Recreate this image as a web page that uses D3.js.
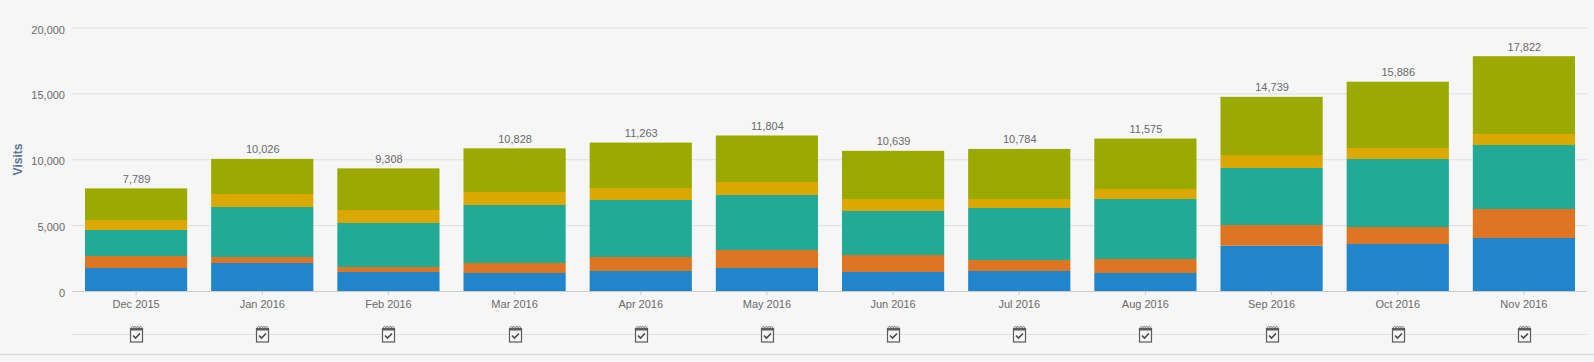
<!DOCTYPE html>
<html><head><meta charset="utf-8">
<script src="https://cdn.jsdelivr.net/npm/d3@7"></script>
<style>html,body{margin:0;padding:0;background:#f6f6f6}svg{display:block}text{font-family:"Liberation Sans",Arial,sans-serif}</style>
</head><body><svg id="c" width="1594" height="362"></svg>
<script>
const months=["Dec 2015","Jan 2016","Feb 2016","Mar 2016","Apr 2016","May 2016","Jun 2016","Jul 2016","Aug 2016","Sep 2016","Oct 2016","Nov 2016"];
const totals=[7789,10026,9308,10828,11263,11804,10639,10784,11575,14739,15886,17822];
const blue=[1746,2125,1442,1366,1518,1746,1442,1518,1366,3441,3567,4023];
const orange=[911,455,380,759,1063,1366,1290,835,1063,1569,1290,2201];
const teal=[1973,3795,3340,4402,4326,4175,3340,3947,4554,4326,5161,4858];
const gold=[759,987,987,987,911,987,911,683,759,987,835,835];
const olive=[2400,2664,3159,3314,3445,3530,3656,3801,3833,4416,5033,5905];
const yTicks=[0,5000,10000,15000,20000];
const seriesNames=["blue","orange","teal","gold","olive"];
const seriesColors=["#2085cb","#dd7522","#22aa96","#dba800","#9aaa00"];

const svg=d3.select("#c");
const L=72,R=1587,T=27.5,B=291;
const x=d3.scaleBand().domain(months).range([L+1,R]).paddingInner(0.19).paddingOuter(0.095);
const y=d3.scaleLinear().domain([0,20000]).range([B,T]);
const table=months.map((m,i)=>({month:m,blue:blue[i],orange:orange[i],teal:teal[i],gold:gold[i],olive:olive[i]}));
const stacked=d3.stack().keys(seriesNames)(table);
const color=d3.scaleOrdinal(seriesNames,seriesColors);

// grid + y labels
const yAxis=svg.append("g").attr("transform",`translate(${L},0)`)
  .call(d3.axisLeft(y).tickValues(yTicks).tickSize(-(R-L)).tickPadding(7).tickFormat(d3.format(",")));
yAxis.select(".domain").remove();
yAxis.selectAll("line").attr("stroke",d=>d===0?"#c8ccd0":"#dfdfdf").attr("stroke-width",1);
yAxis.selectAll("text").attr("fill","#6a6a6a").style("font-size","11px").attr("dy","0.5em");

// bars
svg.append("g").selectAll("g").data(stacked).join("g").attr("fill",d=>color(d.key))
  .selectAll("rect").data(d=>d).join("rect")
  .attr("x",d=>x(d.data.month)).attr("width",x.bandwidth())
  .attr("y",d=>y(d[1])).attr("height",d=>y(d[0])-y(d[1]));

// x axis
const xAxis=svg.append("g").attr("transform",`translate(0,${B})`)
  .call(d3.axisBottom(x).tickSize(4).tickPadding(5));
xAxis.select(".domain").remove();
xAxis.selectAll("line").attr("stroke","#c8ccd0");
xAxis.selectAll("text").attr("fill","#6a6a6a").style("font-size","11px");

// totals
svg.append("g").selectAll("text").data(months).join("text")
  .attr("x",d=>x(d)+x.bandwidth()/2+0.5).attr("y",(d,i)=>y(totals[i])-5.5)
  .attr("text-anchor","middle").attr("fill","#6a6a6a").style("font-size","11px")
  .text((d,i)=>d3.format(",")(totals[i]));

// axis title
svg.append("text").attr("transform",`translate(22,${159.5}) rotate(-90)`)
  .attr("text-anchor","middle").attr("fill","#5b7597").style("font-size","12px").style("font-weight","bold").text("Visits");

// annotation row
svg.append("line").attr("x1",L).attr("x2",R).attr("y1",334.5).attr("y2",334.5).attr("stroke","#e2e2e2");
svg.append("line").attr("x1",0).attr("x2",1594).attr("y1",354.5).attr("y2",354.5).attr("stroke","#dcdcdc").attr("stroke-width",1.5);
const icon=svg.append("g").selectAll("g").data(months).join("g")
  .attr("transform",d=>`translate(${Math.round(x(d)+x.bandwidth()/2)+0.5},334.5)`);
icon.append("rect").attr("x",-6).attr("y",-6).attr("width",12).attr("height",13.5).attr("fill","#f6f6f6").attr("stroke","#5a5a5a").attr("stroke-width",1.2);
icon.append("rect").attr("x",-6).attr("y",-6).attr("width",12).attr("height",2).attr("fill","#5a5a5a");
icon.selectAll("circle").data([-4,-1.3,1.4,4.1]).join("circle").attr("cx",v=>v).attr("cy",-7).attr("r",1.1).attr("fill","none").attr("stroke","#666").attr("stroke-width",.7);
icon.append("path").attr("d","M-3.5,1 L-1,3.5 L3.5,-1").attr("fill","none").attr("stroke","#4a4a4a").attr("stroke-width",1.6);
</script></body></html>
